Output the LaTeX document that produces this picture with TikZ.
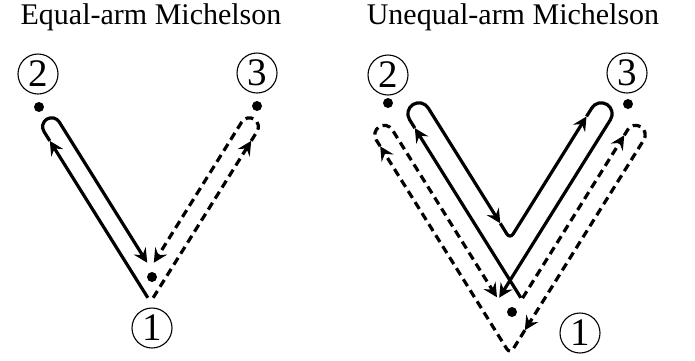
\documentclass[tikz,border=0pt]{standalone}
\usepackage{fontspec}
\setmainfont{Liberation Serif}
\usetikzlibrary{calc,arrows.meta}

\tikzset{
  beam/.style={line width=1.6pt, -{Stealth[length=7pt,width=7pt,inset=2.5pt]}},
  dbeam/.style={beam, dash pattern=on 4pt off 2.5pt},
  craft/.style={circle, fill, inner sep=0pt, minimum size=5pt},
  tag/.style={circle, draw, line width=0.55pt, inner sep=0pt, minimum size=20pt,
    font=\fontsize{19.5}{19.5}\selectfont},
  title/.style={anchor=base, font=\fontsize{15}{17}\selectfont}
}

\begin{document}
\begin{tikzpicture}[x=0.5pt,y=0.5pt]
\useasboundingbox (0,0) rectangle (695,-360);

% Titles
\node[title] (t1) at (151,-24) {Equal-arm Michelson};
\node[title] (t2) at (513,-24) {Unequal-arm Michelson};

% Equal-arm: spacecraft
\node[craft] (a1) at (152,-277) {};
\node[craft] (a2) at (39,-107) {};
\node[craft] (a3) at (257,-106) {};
\node[tag] (la1) at (152,-328) {1};
\node[tag] (la2) at (38,-74) {2};
\node[tag] (la3) at (257,-73) {3};

% Equal-arm: beam points
\coordinate (v) at (150.5,-302);
\coordinate (s0) at ($(v)+(122:5)$);
\coordinate (s1) at ($(v)+(122:190)$);
\coordinate (s2) at ($(v)+(122:210)$);
\coordinate (s3) at ($(v)+(122:210)+(32:18)$);
\coordinate (s4) at ($(v)+(122:35)+(32:18)$);
\coordinate (r0) at ($(v)+(58:5)$);
\coordinate (r1) at ($(v)+(58:190)$);
\coordinate (r2) at ($(v)+(58:210)$);
\coordinate (r3) at ($(v)+(58:210)+(148:18)$);
\coordinate (r4) at ($(v)+(58:35)+(148:18)$);

% Equal-arm: 1 -> 2 -> 1 (solid), 1 -> 3 -> 1 (dashed)
\draw[beam] (s0) -- (s1);
\draw[beam, rounded corners=4.5pt] (s1) -- (s2) -- (s3) -- (s4);
\draw[dbeam] (r0) -- (r1);
\draw[dbeam, rounded corners=4.5pt] (r1) -- (r2) -- (r3) -- (r4);

% Unequal-arm: spacecraft
\node[craft] (b1) at (512,-312) {};
\node[craft] (b2) at (388,-103) {};
\node[craft] (b3) at (628,-104) {};
\node[tag] (lb1) at (580,-333) {1};
\node[tag] (lb2) at (388,-75) {2};
\node[tag] (lb3) at (627,-73) {3};

% Unequal-arm: solid beam points
\coordinate (w) at (510,-354);
\coordinate (p0) at ($(w)+(122:42)+(32:39)$);
\coordinate (p1) at ($(w)+(122:242)+(32:39)$);
\coordinate (p2) at ($(w)+(122:263)+(32:39)$);
\coordinate (p3) at ($(w)+(122:263)+(32:61)$);
\coordinate (p4) at ($(w)+(122:116)+(32:61)$);
\coordinate (k) at ($(w)+(90:115)$);
\coordinate (p5) at ($(w)+(58:242)+(148:61)$);
\coordinate (p6) at ($(w)+(58:263)+(148:61)$);
\coordinate (p7) at ($(w)+(58:263)+(148:39)$);
\coordinate (p8) at ($(w)+(58:42)+(148:39)$);

% Unequal-arm: dashed beam points
\coordinate (q0) at ($(w)+(58:54)+(148:19)$);
\coordinate (q1) at ($(w)+(58:246)+(148:19)$);
\coordinate (q2) at ($(w)+(58:262)+(148:19)$);
\coordinate (q3) at ($(w)+(58:262)$);
\coordinate (q4) at ($(w)+(58:28)$);
\coordinate (q5) at ($(w)+(122:245)$);
\coordinate (q6) at ($(w)+(122:262)$);
\coordinate (q7) at ($(w)+(122:262)+(32:19)$);
\coordinate (q8) at ($(w)+(122:55)+(32:19)$);

% Unequal-arm: 1 -> 2 -> 1 -> 3 -> 1 (solid)
\draw[beam] (p0) -- (p1);
\draw[beam, rounded corners=5.5pt] (p1) -- (p2) -- (p3) -- (p4);
\draw[beam, rounded corners=3pt] (p4) -- (k) -- (p5);
\draw[beam, rounded corners=5.5pt] (p5) -- (p6) -- (p7) -- (p8);

% Unequal-arm: 1 -> 3 -> 1 -> 2 -> 1 (dashed)
\draw[dbeam] (q0) -- (q1);
\draw[dbeam, rounded corners=4.75pt] (q1) -- (q2) -- (q3) -- (q4);
\draw[dbeam, rounded corners=3pt] (q4) -- (w) -- (q5);
\draw[dbeam, rounded corners=4.75pt] (q5) -- (q6) -- (q7) -- (q8);

\end{tikzpicture}
\end{document}
